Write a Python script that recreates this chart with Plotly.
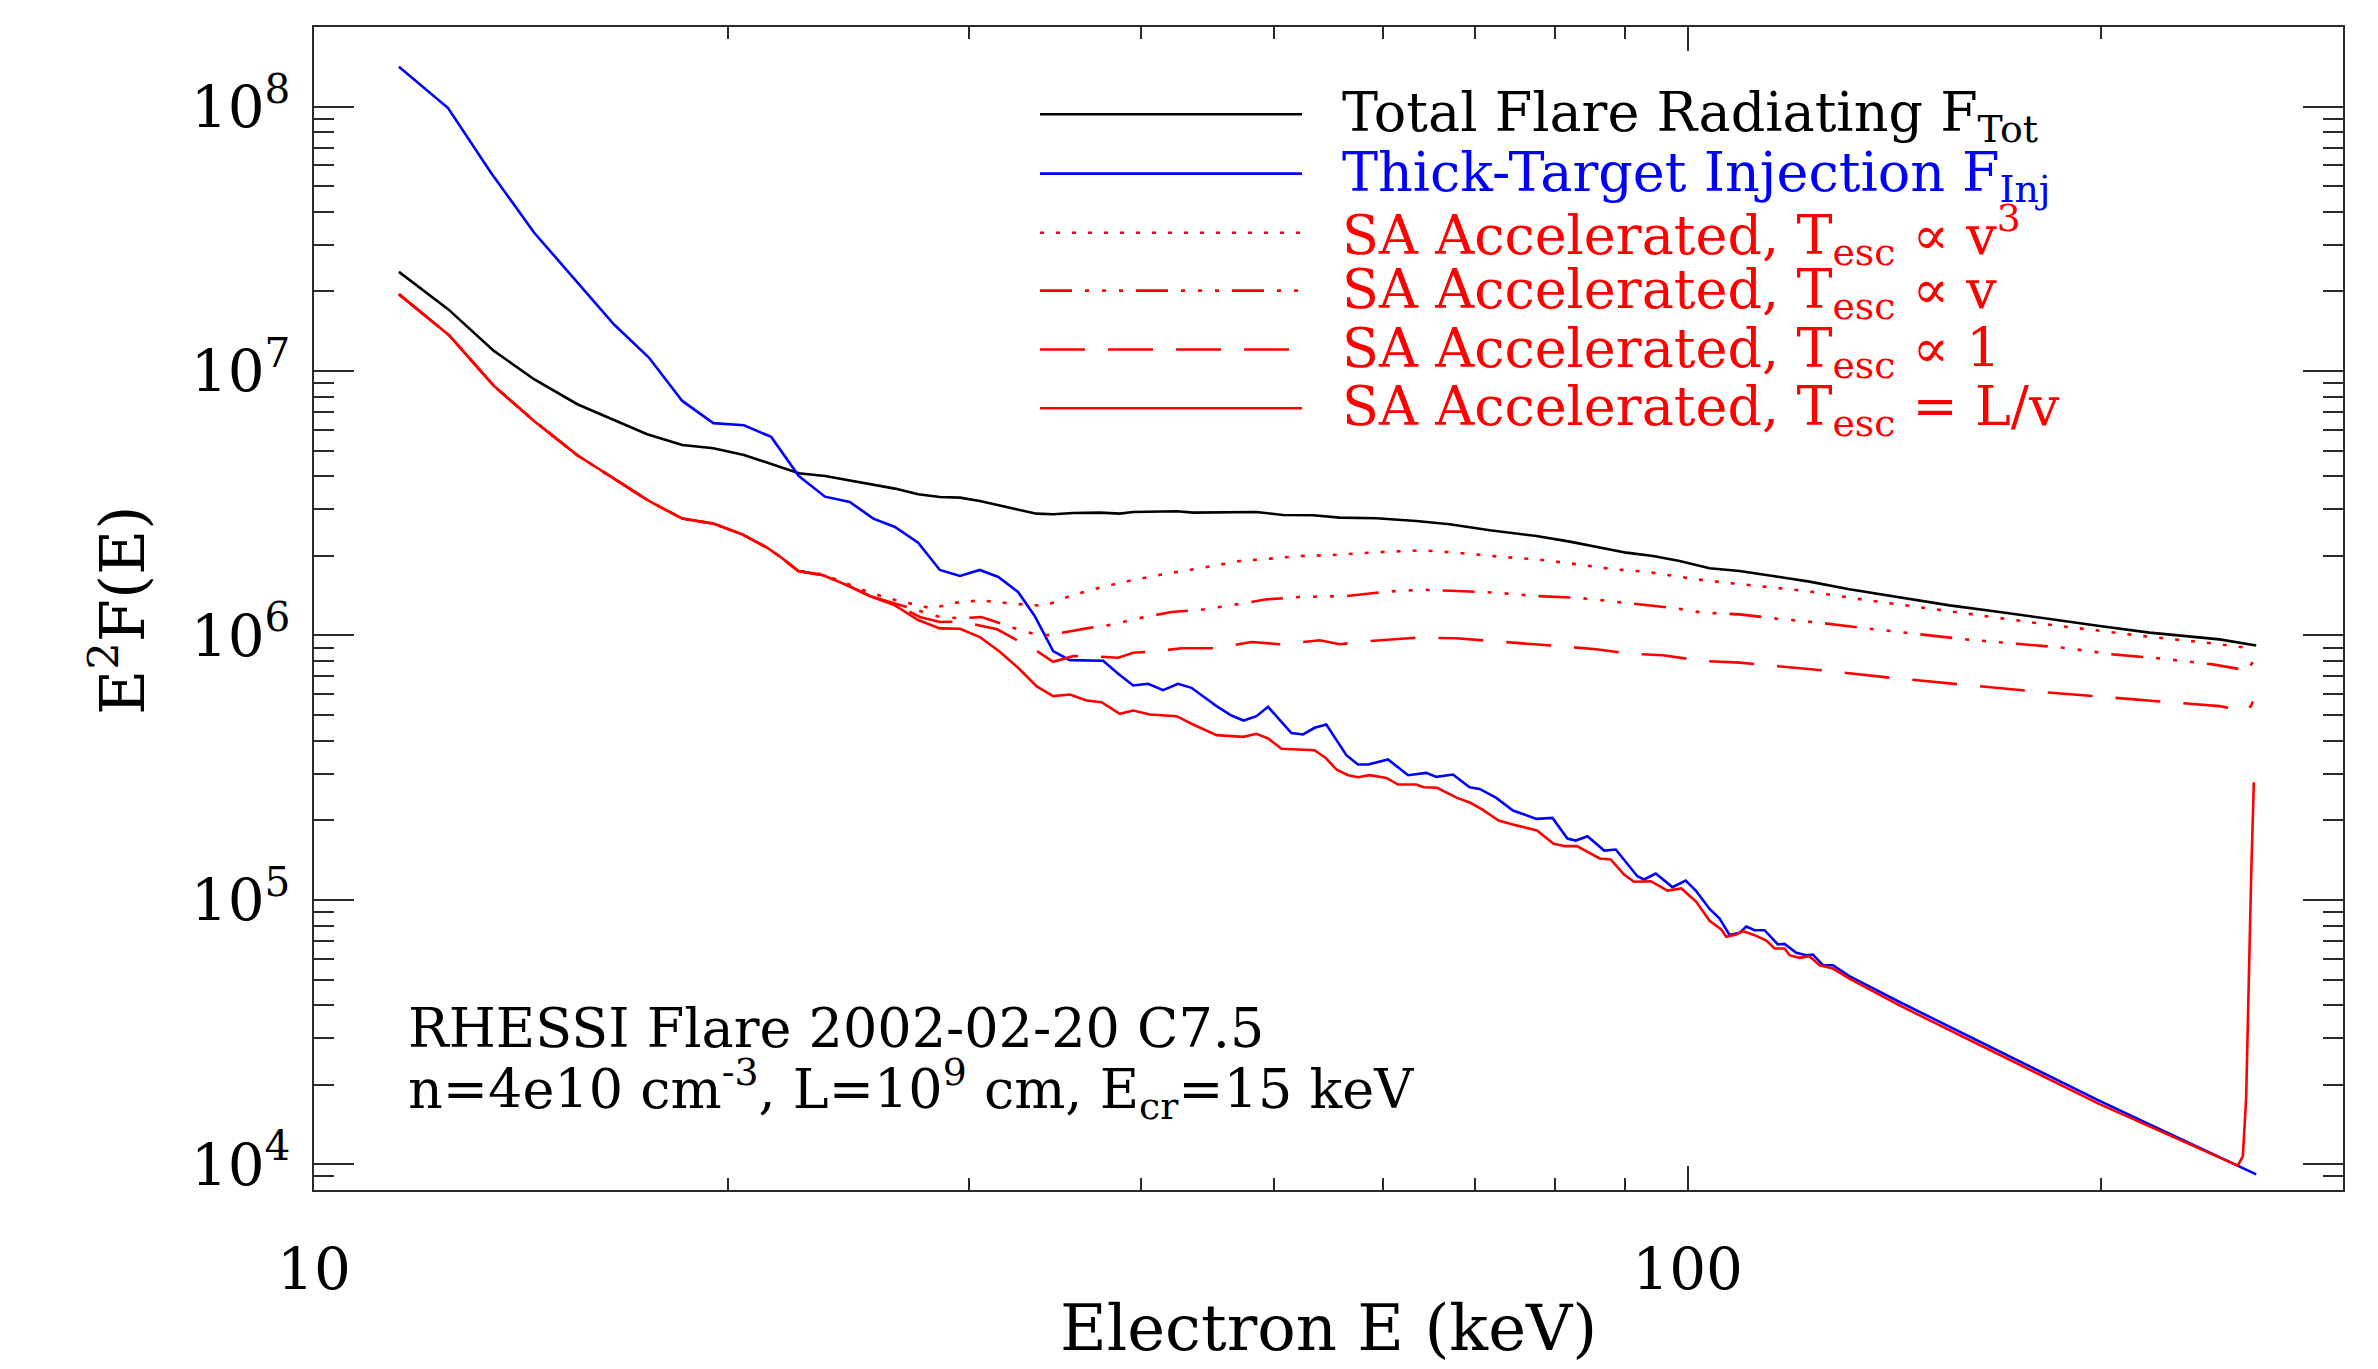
import math
import plotly.graph_objects as go

# ---------------- data ----------------
TOT_E = [11.53, 12.52, 13.52, 14.46, 15.55, 16.53, 17.48, 18.54, 19.53, 20.56,
         21.52, 22.54, 23.55, 24.55, 25.54, 26.48, 27.53, 28.55, 29.53, 30.53,
         32.28, 33.57, 34.52, 35.70, 37.33, 38.60, 39.48, 42.46, 43.65, 45.65,
         48.54, 50.76, 53.38, 55.81, 59.34, 63.46, 67.11, 71.77, 77.61, 82.08,
         86.29, 90.24, 94.37, 98.67, 103.75, 109.09, 115.37, 122.65, 131.14, 142.65,
         155.13, 168.70, 183.45, 199.53, 216.86, 243.92, 259.37]
TOT_V = [2.372e7, 1.714e7, 1.192e7, 9.311e6, 7.490e6, 6.516e6, 5.768e6, 5.255e6, 5.105e6, 4.817e6,
         4.441e6, 4.106e6, 4.012e6, 3.864e6, 3.709e6, 3.593e6, 3.420e6, 3.341e6, 3.322e6, 3.227e6,
         3.019e6, 2.889e6, 2.873e6, 2.907e6, 2.915e6, 2.889e6, 2.932e6, 2.949e6, 2.915e6, 2.915e6,
         2.932e6, 2.856e6, 2.848e6, 2.791e6, 2.775e6, 2.711e6, 2.633e6, 2.499e6, 2.379e6, 2.264e6,
         2.149e6, 2.057e6, 1.999e6, 1.913e6, 1.795e6, 1.754e6, 1.679e6, 1.598e6, 1.495e6, 1.390e6,
         1.300e6, 1.227e6, 1.151e6, 1.086e6, 1.025e6, 9.669e5, 9.162e5]

INJ_E = [11.53, 12.52, 13.45, 14.46, 15.55, 16.53, 17.53, 18.54, 19.53, 20.56,
         21.52, 22.54, 23.55, 24.55, 25.54, 26.48, 27.53, 28.55, 29.53, 30.53,
         31.49, 32.55, 33.47, 34.52, 35.50, 37.54, 38.50, 39.48, 40.48, 41.51,
         42.56, 43.53, 45.40, 46.55, 47.51, 48.54, 49.50, 51.47, 52.49, 53.51,
         54.57, 56.44, 57.55, 58.53, 60.52, 61.37, 62.59, 64.53, 65.63, 67.48,
         69.39, 70.56, 72.56, 74.62, 75.45, 77.61, 79.73, 81.75, 82.91, 84.55,
         86.94, 88.65, 91.92, 92.96, 94.80, 97.48, 99.68, 101.46, 103.75, 105.51,
         107.30, 109.09, 110.33, 111.89, 113.76, 116.33, 117.65, 119.98, 122.01, 123.37,
         125.46, 127.59, 131.14, 142.65, 199.48, 259.37]
INJ_V = [1.416e8, 9.872e7, 5.636e7, 3.342e7, 2.163e7, 1.503e7, 1.125e7, 7.709e6, 6.353e6, 6.237e6,
         5.636e6, 4.009e6, 3.350e6, 3.199e6, 2.766e6, 2.573e6, 2.245e6, 1.769e6, 1.679e6, 1.769e6,
         1.664e6, 1.460e6, 1.185e6, 8.729e5, 8.070e5, 8.024e5, 7.165e5, 6.471e5, 6.566e5, 6.214e5,
         6.566e5, 6.341e5, 5.405e5, 4.983e5, 4.770e5, 4.954e5, 5.374e5, 4.273e5, 4.223e5, 4.475e5,
         4.608e5, 3.527e5, 3.251e5, 3.251e5, 3.396e5, 3.205e5, 2.963e5, 3.023e5, 2.920e5, 2.980e5,
         2.669e5, 2.630e5, 2.432e5, 2.178e5, 2.134e5, 2.025e5, 2.043e5, 1.706e5, 1.677e5, 1.741e5,
         1.537e5, 1.551e5, 1.229e5, 1.195e5, 1.259e5, 1.118e5, 1.184e5, 1.079e5, 9.247e4, 8.508e4,
         7.362e4, 7.508e4, 7.934e4, 7.684e4, 7.684e4, 6.783e4, 6.822e4, 6.307e4, 6.180e4, 6.216e4,
         5.665e4, 5.665e4, 5.148e4, 4.111e4, 1.738e4, 9162]

# low-energy part shared by all four SA curves (they overlap there)
SA_LOW_E = [11.53, 12.54, 13.52, 14.46, 15.55, 16.53, 17.53, 18.54, 19.53, 20.50,
            21.37, 21.85, 22.52, 23.48, 24.42, 25.39]
SA_LOW_V = [1.953e7, 1.367e7, 8.790e6, 6.477e6, 4.803e6, 3.931e6, 3.227e6, 2.767e6, 2.649e6, 2.413e6,
            2.149e6, 1.984e6, 1.754e6, 1.689e6, 1.552e6, 1.410e6]

SA_V3_E = [23.48, 25.39, 26.55, 28.16, 29.36, 30.53, 32.28, 34.01, 35.50, 37.33,
           39.48, 41.75, 44.15, 47.21, 49.64, 52.19, 55.20, 59.34, 64.16, 67.83,
           73.36, 77.61, 82.07, 88.41, 93.50, 101.46, 106.68, 112.82, 122.01, 132.14,
           143.50, 155.13, 168.70, 182.39, 198.26, 214.40, 238.42, 258.65]
SA_V3_V = [1.703e6, 1.452e6, 1.358e6, 1.267e6, 1.331e6, 1.358e6, 1.319e6, 1.293e6, 1.410e6, 1.517e6,
           1.622e6, 1.713e6, 1.795e6, 1.913e6, 1.953e6, 1.998e6, 2.016e6, 2.064e6, 2.100e6, 2.057e6,
           1.981e6, 1.941e6, 1.875e6, 1.779e6, 1.739e6, 1.631e6, 1.584e6, 1.539e6, 1.473e6, 1.382e6,
           1.304e6, 1.238e6, 1.168e6, 1.102e6, 1.046e6, 9.954e5, 9.393e5, 8.913e5]

SA_V_E = [26.48, 27.61, 28.55, 29.61, 30.61, 32.28, 33.82, 34.77, 36.51, 38.23,
          39.48, 42.09, 44.15, 46.69, 49.36, 52.19, 56.44, 60.36, 64.25, 67.94,
          72.57, 77.61, 82.99, 85.33, 91.27, 98.13, 102.59, 109.09, 116.01, 124.77,
          134.90, 146.57, 159.38, 173.47, 187.60, 203.99, 220.55, 241.16, 252.93, 256.75,
          257.93]
SA_V_V = [1.318e6, 1.238e6, 1.175e6, 1.161e6, 1.175e6, 1.070e6, 9.954e5, 1.016e6, 1.064e6, 1.102e6,
          1.151e6, 1.227e6, 1.249e6, 1.304e6, 1.370e6, 1.398e6, 1.410e6, 1.465e6, 1.490e6, 1.473e6,
          1.452e6, 1.410e6, 1.390e6, 1.370e6, 1.319e6, 1.267e6, 1.220e6, 1.202e6, 1.158e6, 1.118e6,
          1.064e6, 1.016e6, 9.669e5, 9.311e5, 8.991e5, 8.484e5, 8.194e5, 7.777e5, 7.447e5, 7.674e5,
          7.943e5]

SA_1_E = [26.48, 27.61, 28.55, 29.61, 31.43, 33.60, 34.52, 35.70, 36.81, 38.50,
          39.48, 41.16, 42.81, 45.40, 48.14, 50.48, 53.98, 55.81, 58.03, 63.46,
          67.83, 72.98, 77.68, 82.08, 85.80, 90.73, 95.97, 102.59, 109.09, 116.01,
          125.46, 140.28, 157.76, 177.39, 198.26, 222.96, 243.92, 255.04, 257.22, 257.93]
SA_1_V = [1.312e6, 1.175e6, 1.125e6, 1.128e6, 1.055e6, 8.729e5, 7.954e5, 8.355e5, 8.355e5, 8.235e5,
          8.601e5, 8.729e5, 8.945e5, 8.945e5, 9.452e5, 9.262e5, 9.590e5, 9.262e5, 9.480e5, 9.816e5,
          9.760e5, 9.480e5, 9.262e5, 9.048e5, 8.867e5, 8.539e5, 8.416e5, 8.010e5, 7.894e5, 7.668e5,
          7.384e5, 6.928e5, 6.536e5, 6.168e5, 5.887e5, 5.620e5, 5.405e5, 5.176e5, 5.433e5, 5.623e5]

SA_LV_E = [26.48, 27.53, 28.55, 29.53, 30.53, 31.57, 32.55, 33.57, 34.52, 35.50,
           36.51, 37.44, 38.60, 39.48, 40.60, 42.46, 43.65, 45.40, 47.47, 48.54,
           49.50, 50.62, 51.62, 53.51, 54.57, 55.50, 56.60, 57.55, 58.70, 60.36,
           61.55, 63.46, 64.25, 65.70, 67.94, 69.48, 70.85, 72.85, 74.93, 77.68,
           79.88, 81.46, 83.07, 86.29, 87.90, 89.89, 91.41, 94.02, 96.67, 98.96,
           101.46, 103.75, 105.80, 106.68, 108.49, 109.72, 111.89, 114.10, 115.69, 117.65,
           118.63, 120.64, 122.65, 124.77, 127.59, 131.14, 142.65, 199.48, 251.48, 253.63,
           255.04, 256.04, 257.22, 258.35]
SA_LV_V = [1.300e6, 1.144e6, 1.064e6, 1.061e6, 9.863e5, 8.677e5, 7.549e5, 6.434e5, 5.898e5, 5.984e5,
           5.679e5, 5.597e5, 5.056e5, 5.205e5, 5.027e5, 4.954e5, 4.607e5, 4.199e5, 4.138e5, 4.247e5,
           4.079e5, 3.727e5, 3.706e5, 3.684e5, 3.426e5, 3.113e5, 2.963e5, 2.912e5, 2.963e5, 2.894e5,
           2.731e5, 2.731e5, 2.669e5, 2.655e5, 2.432e5, 2.330e5, 2.198e5, 1.997e5, 1.918e5, 1.831e5,
           1.630e5, 1.597e5, 1.597e5, 1.435e5, 1.422e5, 1.248e5, 1.171e5, 1.177e5, 1.085e5, 1.105e5,
           9.834e4, 8.337e4, 7.729e4, 7.261e4, 7.400e4, 7.621e4, 7.357e4, 7.023e4, 6.550e4, 6.550e4,
           6.180e4, 6.038e4, 6.126e4, 5.665e4, 5.503e4, 5.043e4, 3.990e4, 1.690e4, 9886, 1.0715e4,
           1.778e4, 5.012e4, 1.259e5, 2.786e5]

X_TICKS = [10, 100]
X_TICK_TEXT = ["10", "100"]
X_MINOR = [20, 30, 40, 50, 60, 70, 80, 90, 200, 300]
Y_TICKS = [1e4, 1e5, 1e6, 1e7, 1e8]
Y_TICK_TEXT = ["10<sup>4</sup>", "10<sup>5</sup>", "10<sup>6</sup>", "10<sup>7</sup>", "10<sup>8</sup>"]
Y_MINOR = [9e3, 2e4, 3e4, 4e4, 5e4, 6e4, 7e4, 8e4, 9e4,
           2e5, 3e5, 4e5, 5e5, 6e5, 7e5, 8e5, 9e5,
           2e6, 3e6, 4e6, 5e6, 6e6, 7e6, 8e6, 9e6,
           2e7, 3e7, 4e7, 5e7, 6e7, 7e7, 8e7, 9e7, 2e8]
X_RANGE = [10, 300]
Y_RANGE = [8e3, 2e8]

LEGEND_TEXT = ["Total Flare Radiating F<sub>Tot</sub>",
               "Thick-Target Injection F<sub>Inj</sub>",
               "SA Accelerated, T<sub>esc</sub> \u221d v<sup>3</sup>",
               "SA Accelerated, T<sub>esc</sub> \u221d v",
               "SA Accelerated, T<sub>esc</sub> \u221d 1",
               "SA Accelerated, T<sub>esc</sub> = L/v"]
NOTE_LINES = ["RHESSI Flare 2002-02-20 C7.5",
              "n=4e10 cm<sup>-3</sup>, L=10<sup>9</sup> cm, E<sub>cr</sub>=15 keV"]

# ---------------- styles ----------------
BLACK, BLUE, RED = "#000000", "#0000ff", "#ff0000"
AX = "#2a2a2a"
FONT = "DejaVu Serif"
LW = 2.6
DOT = "4px,12px"
DASH3DOT = "32px,13px,4px,13px,4px,13px,4px,13px"
LONGDASH = "45px,23px"

fig = go.Figure()

def add(xs, ys, color, dash, name):
    fig.add_trace(go.Scatter(x=xs, y=ys, mode="lines", name=name,
                             line=dict(color=color, width=LW, dash=dash)))

add(TOT_E, TOT_V, BLACK, "solid", "Total")
add(INJ_E, INJ_V, BLUE, "solid", "Injection")
add(SA_LOW_E[:13] + SA_V3_E, SA_LOW_V[:13] + SA_V3_V, RED, DOT, "SA v3")
add(SA_LOW_E + SA_V_E, SA_LOW_V + SA_V_V, RED, DASH3DOT, "SA v")
add(SA_LOW_E + SA_1_E, SA_LOW_V + SA_1_V, RED, LONGDASH, "SA 1")
add(SA_LOW_E + SA_LV_E, SA_LOW_V + SA_LV_V, RED, "solid", "SA L/v")

# plot-area geometry in pixels
W, H = 2378, 1369
L, R, T, B = 314, 35, 27, 179
PW, PH = W - L - R, H - T - B

def px(x):
    return (x - L) / PW

def py(y):
    return (H - B - y) / PH

# manual legend
leg_y = [114.3, 173.6, 232.7, 290.6, 349.5, 408.2]
leg_style = [(BLACK, "solid"), (BLUE, "solid"), (RED, DOT), (RED, DASH3DOT), (RED, LONGDASH), (RED, "solid")]
for i, (col, dsh) in enumerate(leg_style):
    fig.add_shape(type="line", xref="paper", yref="paper",
                  x0=px(1040), x1=px(1302), y0=py(leg_y[i]), y1=py(leg_y[i]),
                  line=dict(color=col, width=LW, dash=dsh))
    fig.add_annotation(xref="paper", yref="paper", x=px(1340), y=py(leg_y[i] + 2),
                       text=LEGEND_TEXT[i], showarrow=False, xanchor="left", yanchor="middle",
                       font=dict(family=FONT, size=54, color=col))

for i, (line, yy) in enumerate(zip(NOTE_LINES, [1028, 1089])):
    fig.add_annotation(xref="paper", yref="paper", x=px(406), y=py(yy), text=line,
                       showarrow=False, xanchor="left", yanchor="middle",
                       font=dict(family=FONT, size=54, color=BLACK))

# axis titles
fig.add_annotation(xref="paper", yref="paper", x=0.5, y=py(1328), text="Electron E (keV)",
                   showarrow=False, xanchor="center", yanchor="middle",
                   font=dict(family=FONT, size=64, color=BLACK))
fig.add_annotation(xref="paper", yref="paper", x=px(118), y=py(610), text="E<sup>2</sup>F(E)",
                   showarrow=False, xanchor="center", yanchor="middle", textangle=-90,
                   font=dict(family=FONT, size=62, color=BLACK))

fig.update_layout(
    width=W, height=H,
    margin=dict(l=L, r=R, t=T, b=B, pad=0),
    paper_bgcolor="white", plot_bgcolor="white",
    showlegend=False,
    font=dict(family=FONT, color="black", size=54),
)
fig.update_xaxes(type="log", range=[math.log10(X_RANGE[0]), math.log10(X_RANGE[1])],
                 showgrid=False, zeroline=False, showline=True, linecolor=AX, linewidth=2,
                 mirror="allticks", ticks="inside", ticklen=24, tickwidth=2, tickcolor=AX,
                 tickmode="array", tickvals=X_TICKS, ticktext=X_TICK_TEXT,
                 tickfont=dict(family=FONT, size=58, color="black"), ticklabelstandoff=27,
                 minor=dict(ticks="inside", ticklen=12, tickwidth=2, tickcolor=AX,
                            tickmode="array", tickvals=X_MINOR, showgrid=False))
fig.update_yaxes(type="log", range=[math.log10(Y_RANGE[0]), math.log10(Y_RANGE[1])],
                 showgrid=False, zeroline=False, showline=True, linecolor=AX, linewidth=2,
                 mirror="allticks", ticks="inside", ticklen=40, tickwidth=2, tickcolor=AX,
                 tickmode="array", tickvals=Y_TICKS, ticktext=Y_TICK_TEXT,
                 tickfont=dict(family=FONT, size=58, color="black"), ticklabelstandoff=10,
                 minor=dict(ticks="inside", ticklen=20, tickwidth=2, tickcolor=AX,
                            tickmode="array", tickvals=Y_MINOR, showgrid=False))

fig.write_html("out.html")
